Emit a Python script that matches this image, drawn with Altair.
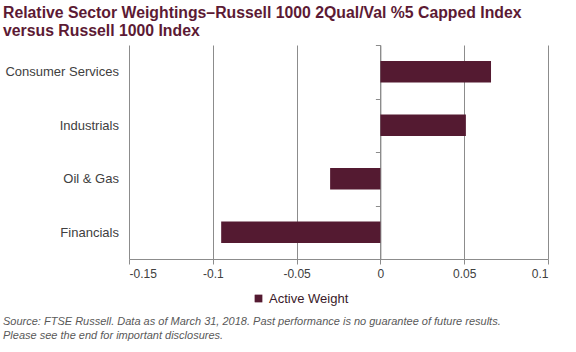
import altair as alt
import pandas as pd

sectors = ["Consumer Services", "Industrials", "Oil & Gas", "Financials"]
active_weight = [0.066, 0.051, -0.030, -0.095]
series_name = ["Active Weight"] * 4
x_ticks = [-0.15, -0.1, -0.05, 0, 0.05, 0.1]
title_lines = ["Relative  Sector Weightings\u2013Russell 1000 2Qual/Val  %5 Capped Index",
               "versus Russell 1000 Index"]
footer_lines = ["Source: FTSE Russell. Data as of March 31, 2018. Past performance is no guarantee of future results.",
                "Please see the end for important disclosures."]
footer_order = [0, 1]

df = pd.DataFrame({"sector": sectors, "value": active_weight, "series": series_name})

W, H = 419, 214
FONT = "Liberation Sans"
BAR = "#541a31"

bars = alt.Chart(df).mark_bar(color=BAR, height={"band": 0.4}).encode(
    x=alt.X("value:Q", scale=alt.Scale(domain=[-0.15, 0.1], nice=False, zero=False),
            axis=alt.Axis(values=x_ticks, labelExpr="'' + datum.value", title=None,
                          grid=True, gridColor="#8c8c8c", domainColor="#8c8c8c",
                          tickColor="#8c8c8c", tickSize=5, labelPadding=4,
                          labelFont=FONT, labelFontSize=12, labelColor="#404040")),
    y=alt.Y("sector:N", sort=sectors,
            scale=alt.Scale(paddingInner=0, paddingOuter=0),
            axis=alt.Axis(title=None, offset=-W * 0.6, tickBand="extent",
                          domainColor="#8c8c8c", tickColor="#8c8c8c", tickSize=5,
                          labelPadding=257, labelFont=FONT, labelFontSize=13,
                          labelColor="#404040", grid=False)),
    color=alt.Color("series:N", scale=alt.Scale(range=[BAR]),
                    legend=alt.Legend(title=None, orient="none", legendX=123, legendY=247,
                                      direction="horizontal", symbolType="square",
                                      symbolSize=60, labelFont=FONT, labelFontSize=13,
                                      labelColor="#3a1a2a")),
)

footer_df = pd.DataFrame({"text": footer_lines, "line": footer_order})
footer = alt.Chart(footer_df).mark_text(
    align="left", baseline="alphabetic", font=FONT, fontSize=11, fontStyle="italic",
    color="#595959"
).encode(
    text="text:N",
    x=alt.value(-126),
    y=alt.Y("line:Q", scale=alt.Scale(domain=[0, 1], range=[H + 66, H + 80]), axis=None),
)

chart = alt.layer(bars, footer).resolve_scale(y="independent").properties(
    width=W, height=H,
    autosize=alt.AutoSizeParams(type="none"),
    padding={"left": 129, "top": 45, "right": 28, "bottom": 93},
    title=alt.TitleParams(text=title_lines, anchor="start", frame="group", dx=-126,
                          offset=-1, font=FONT, fontSize=15.8, fontWeight="bold",
                          color="#5c1a34", lineHeight=18),
).configure_view(stroke=None)

chart.save("out.html", embed_options={"renderer": "svg", "actions": False})
